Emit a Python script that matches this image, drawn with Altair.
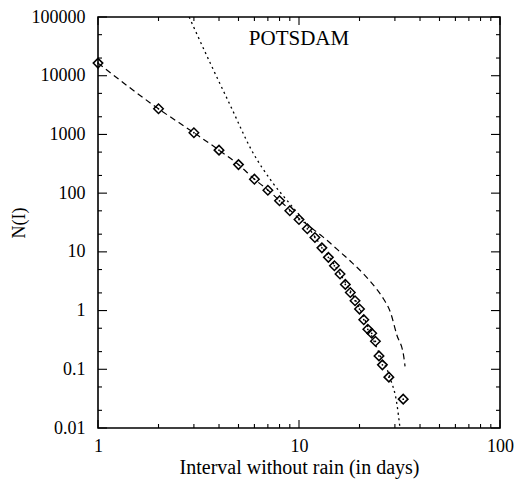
import altair as alt
import pandas as pd

# ---- data ----
interval = [1, 2, 3, 4, 5, 6, 7, 8, 9, 10, 11, 12, 13, 14, 15, 16, 17, 18, 19, 20,
            21, 22, 23, 24, 25, 26, 28, 33]
count = [16400, 2730, 1070, 540, 306, 173, 112, 74, 50, 35.5, 24.7, 17.6, 11.7, 8.06,
         5.8, 4.2, 2.79, 2.03, 1.47, 1.06, 0.70, 0.48, 0.41, 0.30, 0.169, 0.119, 0.0735, 0.031]

dash_x = [1, 2, 3, 4, 5, 6, 7, 8, 9, 10, 11, 12, 13.15, 15.6, 18.1, 21.1, 24, 26.4,
          28.5, 30.7, 33.1, 33.7]
dash_n = [16400, 2730, 1070, 540, 306, 173, 113, 75, 52, 37, 29, 23, 18, 10.8, 6.85,
          4.1, 2.46, 1.56, 0.935, 0.38, 0.176, 0.112]

dot_x = [2.84, 3.65, 4.6, 5.8, 7.4, 9.0, 10.4, 12, 15, 20, 25, 28.4, 30.7, 31.8]
dot_n = [100000, 15350, 2890, 543, 150, 66, 36.5, 18, 6, 1.1, 0.19, 0.071, 0.0255, 0.01]

x_major = [1, 10, 100]
x_minor = [2, 3, 4, 5, 6, 7, 8, 9, 20, 30, 40, 50, 60, 70, 80, 90]
y_major = [0.01, 0.1, 1, 10, 100, 1000, 10000, 100000]
y_minor = [0.02, 0.05, 0.2, 0.5, 2, 5, 20, 50, 200, 500, 2000, 5000, 20000, 50000]

station = ["POTSDAM"]
station_x = [10]
station_y = [33000]

x_title = "Interval without rain (in days)"
y_title = "N(I)"

# ---- chart ----
W, H = 402, 411
FONT = "Liberation Serif"
xs = alt.Scale(type="log", domain=[1, 100], nice=False)
ys = alt.Scale(type="log", domain=[0.01, 100000], nice=False)

x_axis = alt.Axis(values=x_major, format="~g", title=x_title, ticks=False, domain=False,
                  grid=False, labelFont=FONT, labelFontSize=18, labelColor="black",
                  titleFont=FONT, titleFontSize=20, titleFontWeight="normal",
                  titleColor="black", labelPadding=9, titlePadding=2, labelFlush=False)
y_axis = alt.Axis(values=y_major, format="~g", title=y_title, ticks=False, domain=False,
                  grid=False, labelFont=FONT, labelFontSize=18, labelColor="black",
                  titleFont=FONT, titleFontSize=18, titleFontWeight="normal",
                  titleColor="black", labelPadding=13, titlePadding=3, labelFlush=False)


def X(field):
    return alt.X(f"{field}:Q", scale=xs, axis=x_axis)


def Y(field):
    return alt.Y(f"{field}:Q", scale=ys, axis=y_axis)


pts = pd.DataFrame({"x": interval, "n": count})
dash = pd.DataFrame({"x": dash_x, "n": dash_n})
dot = pd.DataFrame({"x": dot_x, "n": dot_n})

diamonds = alt.Chart(pts).mark_point(shape="diamond", size=90, strokeWidth=1.5,
                                      color="black", filled=False, opacity=1).encode(
    x=X("x"), y=Y("n"))
centers = alt.Chart(pts).mark_circle(size=3, color="black", opacity=1).encode(
    x=X("x"), y=Y("n"))
dashed = alt.Chart(dash).mark_line(color="black", strokeWidth=1.2, strokeDash=[6, 4],
                                   interpolate="monotone", clip=True).encode(
    x=X("x"), y=Y("n"))
dotted = alt.Chart(dot).mark_line(color="black", strokeWidth=1.3, strokeDash=[2, 3.5],
                                  interpolate="monotone", clip=True).encode(
    x=X("x"), y=Y("n"))
label = alt.Chart(pd.DataFrame({"t": station, "x": station_x, "n": station_y})).mark_text(
    font=FONT, fontSize=21, color="black", align="center", baseline="alphabetic").encode(
    x=X("x"), y=Y("n"), text="t:N")


def xticks(vals, length):
    df = pd.DataFrame({"v": vals})
    bottom = alt.Chart(df).mark_rule(color="black", strokeWidth=1.1).encode(
        x=X("v"), y=alt.value(H), y2=alt.value(H - length))
    top = alt.Chart(df).mark_rule(color="black", strokeWidth=1.1).encode(
        x=X("v"), y=alt.value(0), y2=alt.value(length))
    return [bottom, top]


def yticks(vals, length):
    df = pd.DataFrame({"v": vals})
    left = alt.Chart(df).mark_rule(color="black", strokeWidth=1.1).encode(
        y=Y("v"), x=alt.value(0), x2=alt.value(length))
    right = alt.Chart(df).mark_rule(color="black", strokeWidth=1.1).encode(
        y=Y("v"), x=alt.value(W), x2=alt.value(W - length))
    return [left, right]


layers = [diamonds] + xticks(x_minor, 4) + xticks(x_major, 8) + yticks(y_minor, 4) + \
    yticks(y_major, 9) + [dotted, dashed, centers, label]

chart = alt.layer(*layers).properties(
    width=W, height=H,
    autosize=alt.AutoSizeParams(type="none"),
    padding={"left": 90, "top": 9, "right": 14, "bottom": 53},
    background="white",
).configure_view(stroke="black", strokeWidth=1.6)

chart.save("out.html", embed_options={"renderer": "svg", "actions": False})
